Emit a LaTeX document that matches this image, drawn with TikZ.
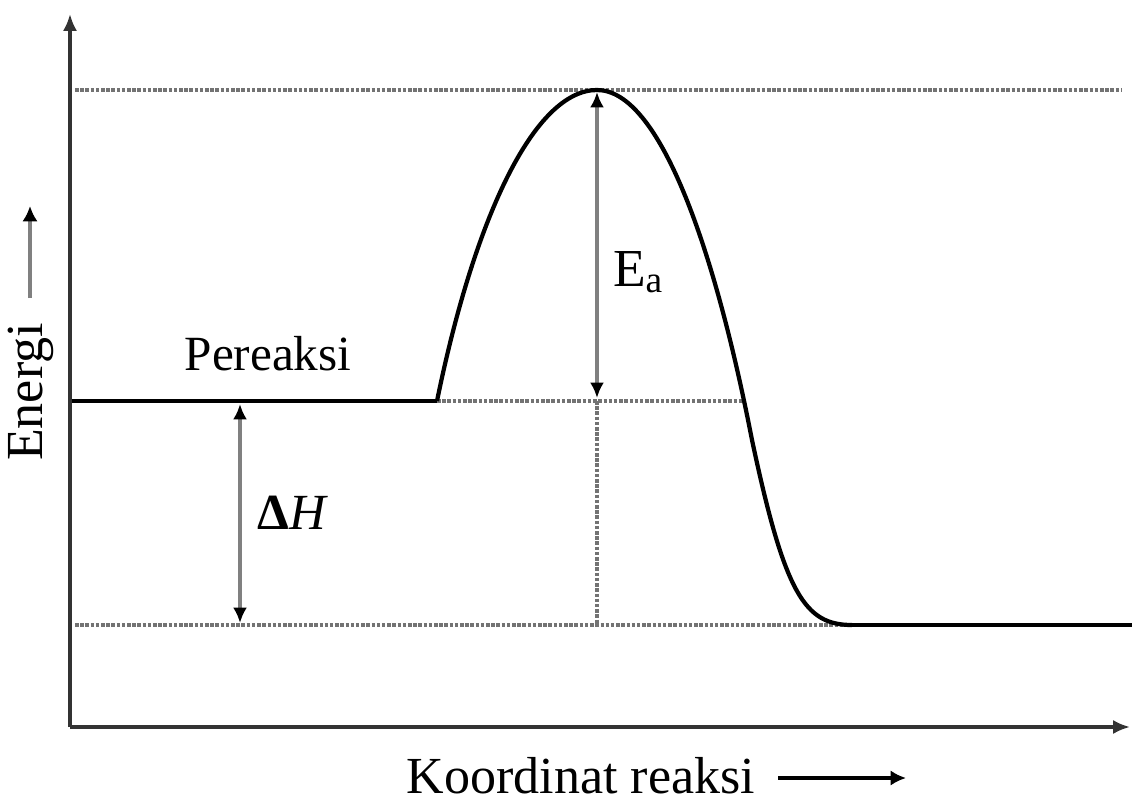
\documentclass[tikz,border=0pt]{standalone}
\usepackage{fontspec}
\setmainfont{Liberation Serif}
\usetikzlibrary{arrows.meta}
\begin{document}
\begin{tikzpicture}[x=0.025cm,y=-0.025cm,
  axisline/.style={draw=black!80,line width=2.2pt},
  levelsolid/.style={draw=black,line width=2.6pt},
  leveldash/.style={draw=black!55,line width=2.6pt,dash pattern=on 2.5pt off 1.2pt},
  curveline/.style={draw=black,line width=3pt},
  measure/.style={draw=black!50,line width=2.6pt,{Latex[length=11pt,width=10pt,black]}-{Latex[length=11pt,width=10pt,black]}},
  labeltext/.style={font=\fontsize{35}{40}\selectfont,inner sep=0pt},
  dirarrow/.style={line width=2.6pt,-{Latex[length=11pt,width=11pt,black]}}
]
\useasboundingbox (0,0) rectangle (1132,808);
% coordinates
\coordinate (O) at (70,727);
\coordinate (ytop) at (70,14);
\coordinate (xend) at (1130,727);
\coordinate (topL) at (75,90);
\coordinate (topR) at (1122,90);
\coordinate (rL) at (72,401);
\coordinate (rS) at (437,401);
\coordinate (rE) at (742,401);
\coordinate (pL) at (75,625);
\coordinate (pS) at (852,625);
\coordinate (pR) at (1132,625);
\coordinate (peak) at (597,90);
\coordinate (eaTop) at (597,92);
\coordinate (eaBot) at (597,398);
\coordinate (vmid) at (597,401);
\coordinate (vlow) at (597,625);
\coordinate (dhTop) at (240,404);
\coordinate (dhBot) at (240,623);
\coordinate (enS) at (30,298);
\coordinate (enE) at (30,206);
\coordinate (kS) at (778,778);
\coordinate (kE) at (906,778);
% axes
\draw[axisline,-{Latex[length=12pt,width=10pt]}] (O) -- (ytop);
\draw[axisline,-{Latex[length=12pt,width=10pt]}] (O) -- (xend);
% levels
\draw[leveldash] (topL) -- (topR);
\draw[levelsolid] (rL) -- (rS);
\draw[leveldash] (rS) -- (rE);
\draw[leveldash] (pL) -- (pS);
\draw[levelsolid] (pS) -- (pR);
\draw[leveldash] (vmid) -- (vlow);
% curve
\draw[curveline] (rS) .. controls (475,215) and (535,90) .. (peak)
  .. controls (660,90) and (715,250) .. (752,440)
  .. controls (785,595) and (805,625) .. (pS);
% measurements
\draw[measure] (eaTop) -- (eaBot);
\draw[measure] (dhTop) -- (dhBot);
% labels
\node[labeltext] (pereaksi) at (268,354) {Pereaksi};
\node[labeltext,font=\fontsize{38}{42}\selectfont] (ea) at (638,272) {E\textsubscript{a}};
\node[labeltext,font=\fontsize{36}{40}\selectfont] (dh) at (293,513) {\textbf{Δ}\textit{H}};
\node[labeltext,font=\fontsize{37}{42}\selectfont,rotate=90] (energi) at (31,392) {Energi};
\node[labeltext,font=\fontsize{37}{42}\selectfont] (koord) at (581,776) {Koordinat reaksi};
% direction arrows
\draw[dirarrow,draw=black!50] (enS) -- (enE);
\draw[dirarrow,draw=black] (kS) -- (kE);
\end{tikzpicture}
\end{document}
